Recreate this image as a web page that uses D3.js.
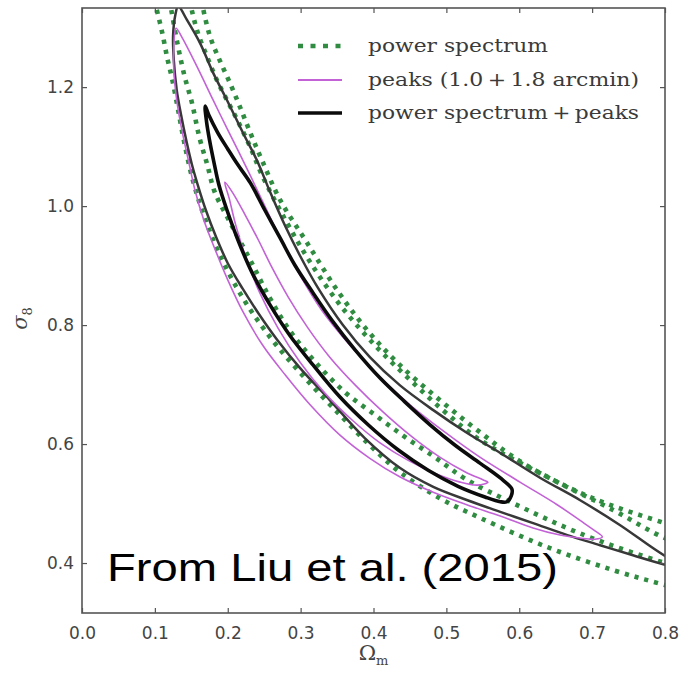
<!DOCTYPE html>
<html>
<head>
<meta charset="utf-8">
<script src="https://cdn.jsdelivr.net/npm/d3@7"></script>
<style>
  body { margin: 0; background: #fff; }
  svg { display: block; }
</style>
</head>
<body>
<svg id="chart" width="682" height="676"></svg>
<script>
// Axis ticks
const omegaTicks = [0.0, 0.1, 0.2, 0.3, 0.4, 0.5, 0.6, 0.7, 0.8];
const sigmaTicks = [0.4, 0.6, 0.8, 1.0, 1.2];
const omegaRange = [0, 0.8];
const sigmaRange = [0.316, 1.333];

// Power spectrum confidence bands (open: they leave the plotted window), [Omega_m, sigma_8]
const psOuterUpper = [[0.159,1.380],[0.166,1.333],[0.176,1.284],[0.189,1.245],[0.203,1.207],[0.217,1.166],[0.231,1.123],[0.247,1.077],[0.272,1.010],[0.309,0.938],[0.350,0.859],[0.391,0.792],[0.436,0.733],[0.491,0.674],[0.546,0.620],[0.605,0.568],[0.697,0.511],[0.800,0.467],[0.876,0.439]];
const psInnerUpper = [[0.143,1.380],[0.150,1.333],[0.159,1.291],[0.172,1.250],[0.185,1.212],[0.199,1.178],[0.213,1.145],[0.231,1.099],[0.247,1.052],[0.279,0.977],[0.313,0.906],[0.354,0.834],[0.402,0.766],[0.450,0.708],[0.498,0.654],[0.546,0.607],[0.638,0.545],[0.729,0.489],[0.800,0.442],[0.876,0.412]];
const psInnerLower = [[0.115,1.380],[0.122,1.333],[0.132,1.267],[0.141,1.217],[0.151,1.173],[0.161,1.116],[0.172,1.069],[0.182,1.024],[0.203,0.973],[0.231,0.909],[0.258,0.845],[0.285,0.791],[0.320,0.738],[0.361,0.687],[0.402,0.649],[0.443,0.612],[0.484,0.578],[0.528,0.540],[0.591,0.501],[0.683,0.450],[0.800,0.400],[0.876,0.375]];
const psOuterLower = [[0.093,1.380],[0.102,1.333],[0.110,1.292],[0.117,1.249],[0.124,1.212],[0.132,1.161],[0.141,1.103],[0.152,1.044],[0.167,0.985],[0.189,0.918],[0.221,0.845],[0.261,0.775],[0.306,0.711],[0.354,0.649],[0.395,0.598],[0.436,0.553],[0.491,0.509],[0.546,0.476],[0.638,0.427],[0.729,0.388],[0.800,0.363],[0.876,0.338]];

// Peaks (1.0 + 1.8 arcmin) closed contours
const peaksOuter = [[0.129,1.299],[0.137,1.284],[0.158,1.234],[0.180,1.178],[0.200,1.128],[0.224,1.069],[0.247,1.010],[0.272,0.946],[0.299,0.884],[0.329,0.825],[0.365,0.770],[0.406,0.716],[0.450,0.666],[0.498,0.620],[0.546,0.578],[0.601,0.536],[0.652,0.498],[0.683,0.472],[0.704,0.454],[0.714,0.444],[0.704,0.440],[0.683,0.442],[0.656,0.447],[0.619,0.459],[0.574,0.479],[0.528,0.498],[0.482,0.519],[0.436,0.545],[0.395,0.576],[0.354,0.615],[0.313,0.666],[0.279,0.716],[0.248,0.766],[0.221,0.822],[0.200,0.876],[0.183,0.926],[0.167,0.977],[0.155,1.027],[0.146,1.077],[0.137,1.128],[0.130,1.178],[0.126,1.229],[0.126,1.271]];
const peaksInner = [[0.196,1.040],[0.206,1.024],[0.224,0.985],[0.242,0.943],[0.261,0.896],[0.283,0.847],[0.309,0.797],[0.340,0.746],[0.375,0.699],[0.413,0.654],[0.453,0.612],[0.491,0.578],[0.526,0.553],[0.550,0.540],[0.557,0.536],[0.543,0.531],[0.519,0.536],[0.484,0.551],[0.447,0.573],[0.409,0.602],[0.371,0.640],[0.333,0.686],[0.299,0.738],[0.269,0.795],[0.244,0.854],[0.225,0.913],[0.211,0.968],[0.202,1.013]];

// Power spectrum + peaks: outer contour (closes beyond the right edge) and inner contour
const comboOuter = [[0.132,1.336],[0.144,1.313],[0.162,1.274],[0.180,1.224],[0.199,1.178],[0.221,1.123],[0.240,1.077],[0.258,1.024],[0.279,0.966],[0.299,0.917],[0.324,0.862],[0.358,0.800],[0.395,0.746],[0.436,0.699],[0.482,0.657],[0.528,0.619],[0.574,0.585],[0.629,0.543],[0.683,0.506],[0.738,0.464],[0.800,0.412],[0.845,0.385],[0.800,0.397],[0.756,0.413],[0.711,0.430],[0.666,0.447],[0.619,0.467],[0.574,0.486],[0.528,0.506],[0.482,0.528],[0.436,0.560],[0.388,0.610],[0.340,0.674],[0.299,0.728],[0.268,0.775],[0.242,0.820],[0.220,0.862],[0.200,0.904],[0.184,0.948],[0.170,0.993],[0.159,1.035],[0.151,1.069],[0.143,1.111],[0.136,1.153],[0.130,1.195],[0.126,1.245],[0.125,1.287],[0.128,1.321]];
const comboInner = [[0.169,1.168],[0.174,1.153],[0.186,1.124],[0.200,1.096],[0.213,1.071],[0.231,1.039],[0.251,0.993],[0.272,0.946],[0.292,0.901],[0.316,0.856],[0.343,0.808],[0.375,0.758],[0.409,0.711],[0.443,0.671],[0.478,0.632],[0.512,0.598],[0.546,0.568],[0.574,0.543],[0.590,0.524],[0.589,0.513],[0.583,0.503],[0.574,0.503],[0.553,0.511],[0.516,0.529],[0.475,0.556],[0.434,0.590],[0.393,0.632],[0.354,0.679],[0.317,0.733],[0.285,0.783],[0.258,0.834],[0.233,0.889],[0.214,0.943],[0.199,0.993],[0.188,1.035],[0.181,1.074],[0.175,1.111],[0.171,1.141]];

const legendLabels = ["power spectrum", "peaks (1.0\u2009+\u20091.8 arcmin)", "power spectrum\u2009+\u2009peaks"];
const creditText = "From Liu et al. (2015)";

// ---------------------------------------------------------------
const svg = d3.select("#chart");
const W = 682, H = 676;
const plot = { left: 82, right: 665, top: 8, bottom: 613 };

svg.append("rect").attr("width", W).attr("height", H).attr("fill", "#fff");

const x = d3.scaleLinear().domain(omegaRange).range([plot.left, plot.right]);
const y = d3.scaleLinear().domain(sigmaRange).range([plot.bottom, plot.top]);

svg.append("defs").append("clipPath").attr("id", "plotClip")
  .append("rect")
  .attr("x", plot.left).attr("y", plot.top)
  .attr("width", plot.right - plot.left).attr("height", plot.bottom - plot.top);

const styles = {
  ps:     { stroke: "#2f8c40", width: 4.6, dash: "4.2,6" },
  peaks:  { stroke: "#c262d6", width: 1.6, dash: null },
  comboO: { stroke: "#383838", width: 2.5, dash: null },
  comboI: { stroke: "#0b0b0b", width: 3.6, dash: null }
};

const openLine = d3.line().x(d => x(d[0])).y(d => y(d[1])).curve(d3.curveCatmullRom.alpha(0.5));
const closedLine = d3.line().x(d => x(d[0])).y(d => y(d[1])).curve(d3.curveCatmullRomClosed.alpha(0.5));

const layer = svg.append("g").attr("clip-path", "url(#plotClip)");

function draw(gen, data, st) {
  const p = layer.append("path")
    .attr("d", gen(data))
    .attr("fill", "none")
    .attr("stroke", st.stroke)
    .attr("stroke-width", st.width)
    .attr("stroke-linejoin", "round");
  if (st.dash) p.attr("stroke-dasharray", st.dash);
  return p;
}

[psOuterUpper, psInnerUpper, psInnerLower, psOuterLower].forEach(d => draw(openLine, d, styles.ps));
draw(closedLine, comboOuter, styles.comboO);
draw(closedLine, peaksOuter, styles.peaks);
draw(closedLine, peaksInner, styles.peaks);
draw(closedLine, comboInner, styles.comboI);

// ---- axes: inward ticks on all four sides, frame drawn separately
const tickFont = "'DejaVu Sans', sans-serif";
function styleAxis(g, showText) {
  g.select(".domain").remove();
  g.selectAll(".tick line").attr("stroke", "#555").attr("stroke-width", 1.2);
  g.selectAll(".tick text")
    .attr("font-family", tickFont).attr("font-size", 17).attr("fill", "#444")
    .style("display", showText ? null : "none");
}
svg.append("g").attr("transform", `translate(0,${plot.bottom})`)
  .call(d3.axisBottom(x).tickValues(omegaTicks).tickFormat(d3.format(".1f")).tickSizeInner(-5).tickSizeOuter(0).tickPadding(14))
  .call(g => styleAxis(g, true));
svg.append("g").attr("transform", `translate(0,${plot.top})`)
  .call(d3.axisTop(x).tickValues(omegaTicks).tickSizeInner(-5).tickSizeOuter(0))
  .call(g => styleAxis(g, false));
svg.append("g").attr("transform", `translate(${plot.left},0)`)
  .call(d3.axisLeft(y).tickValues(sigmaTicks).tickFormat(d3.format(".1f")).tickSizeInner(-5).tickSizeOuter(0).tickPadding(8))
  .call(g => styleAxis(g, true));
svg.append("g").attr("transform", `translate(${plot.right},0)`)
  .call(d3.axisRight(y).tickValues(sigmaTicks).tickSizeInner(-5).tickSizeOuter(0))
  .call(g => styleAxis(g, false));

svg.append("rect")
  .attr("x", plot.left).attr("y", plot.top)
  .attr("width", plot.right - plot.left).attr("height", plot.bottom - plot.top)
  .attr("fill", "none").attr("stroke", "#555").attr("stroke-width", 1.6);

// ---- axis titles
const serif = "'DejaVu Serif', 'Liberation Serif', serif";
const xt = svg.append("text")
  .attr("x", (plot.left + plot.right) / 2).attr("y", 660)
  .attr("text-anchor", "middle").attr("font-family", serif).attr("fill", "#444");
xt.append("tspan").attr("font-size", 21).text("\u03A9");
xt.append("tspan").attr("font-size", 13).attr("dy", 5).text("m");

const yt = svg.append("text")
  .attr("transform", `translate(27,${(plot.top + plot.bottom) / 2 + 8}) rotate(-90)`)
  .attr("text-anchor", "middle").attr("font-family", serif).attr("fill", "#444");
yt.append("tspan").attr("font-size", 21).attr("font-style", "italic").text("\u03C3");
yt.append("tspan").attr("font-size", 13).attr("dy", 5).text("8");

// ---- legend
const legendKeys = [styles.ps, styles.peaks, styles.comboI];
const legendRows = [46, 80, 113];
const legendWidths = [180, 271, 271];
const lg = svg.append("g");
legendKeys.forEach((st, i) => {
  const ln = lg.append("line")
    .attr("x1", 298).attr("x2", 342)
    .attr("y1", legendRows[i]).attr("y2", legendRows[i])
    .attr("stroke", st.stroke).attr("stroke-width", i === 1 ? 2 : st.width);
  if (st.dash) ln.attr("stroke-dasharray", "5,7.5");
  lg.append("text")
    .attr("x", 368).attr("y", legendRows[i] + 6)
    .attr("font-family", serif).attr("font-size", 19).attr("fill", "#3a3a3a")
    .attr("textLength", legendWidths[i]).attr("lengthAdjust", "spacingAndGlyphs")
    .text(legendLabels[i]);
});

// ---- credit line
svg.append("text")
  .attr("x", 107).attr("y", 581)
  .attr("font-family", "'Liberation Sans', Arial, sans-serif")
  .attr("font-size", 39).attr("fill", "#000")
  .attr("textLength", 451).attr("lengthAdjust", "spacingAndGlyphs")
  .text(creditText);
</script>
</body>
</html>
